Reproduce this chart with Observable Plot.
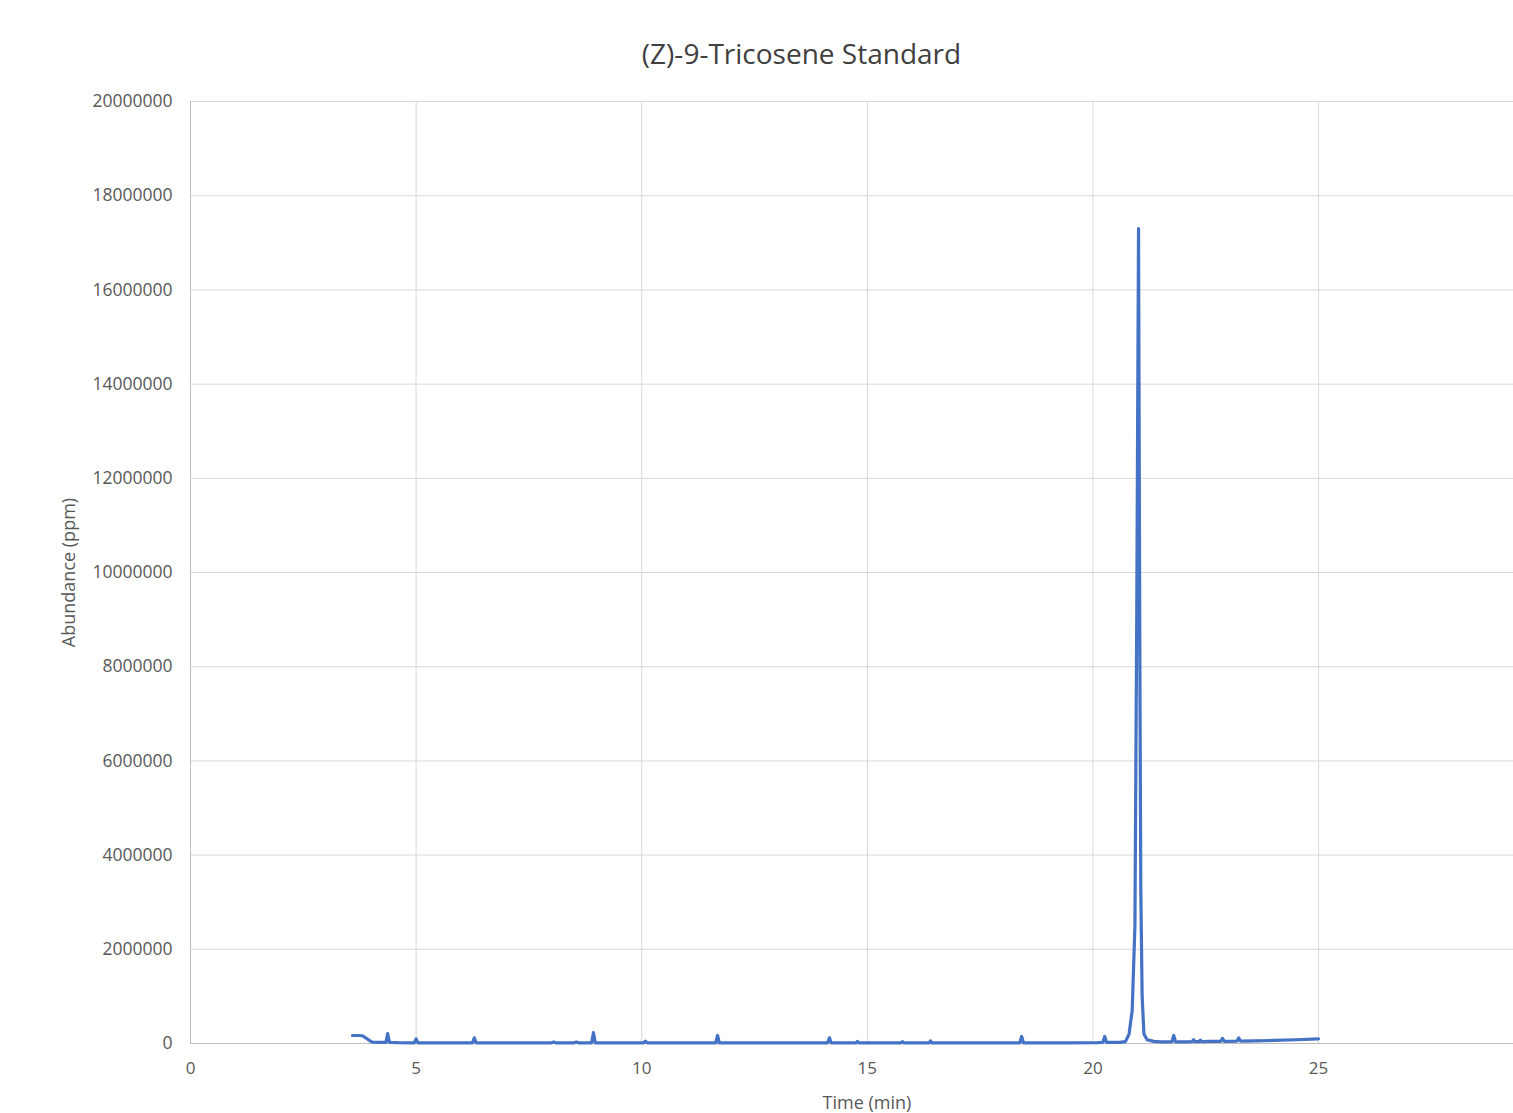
<!DOCTYPE html>
<html>
<head>
<meta charset="utf-8">
<script src="https://cdn.jsdelivr.net/npm/d3@7"></script>
<script src="https://cdn.jsdelivr.net/npm/@observablehq/plot@0.6"></script>
<style>
  body { margin: 0; background: #fff; font-family: "Open Sans", sans-serif; }
  #title { height: 71px; box-sizing: border-box; padding-top: 39px; text-align: center; font-size: 28px; color: #404040; line-height: 1; padding-left: 90px; }
  #chart svg { display: block; }
</style>
</head>
<body>
<div id="title">(Z)-9-Tricosene Standard</div>
<div id="chart"></div>
<script>
const chartTitle = "(Z)-9-Tricosene Standard";
const xLabel = "Time (min)";
const yLabel = "Abundance (ppm)";
const xTicks = [0, 5, 10, 15, 20, 25];
const yTicks = [0, 2000000, 4000000, 6000000, 8000000, 10000000, 12000000, 14000000, 16000000, 18000000, 20000000];

const timeMin = [3.59, 3.7, 3.81, 3.9, 3.97, 4.03, 4.2, 4.33, 4.37, 4.41, 4.6, 4.96, 5.0, 5.04, 5.5, 6.25, 6.29, 6.33, 7.2, 8.0, 8.05, 8.1, 8.3, 8.5, 8.55, 8.6, 8.89, 8.93, 8.97, 9.5, 10.04, 10.08, 10.12, 10.8, 11.64, 11.68, 11.72, 12.6, 13.6, 14.12, 14.16, 14.2, 14.5, 14.75, 14.78, 14.81, 15.3, 15.75, 15.78, 15.81, 16.37, 16.4, 16.43, 17.5, 18.38, 18.42, 18.46, 19.4, 20.1, 20.22, 20.26, 20.3, 20.6, 20.72, 20.8, 20.87, 20.93, 20.97, 21.01, 21.04, 21.06, 21.09, 21.13, 21.2, 21.35, 21.5, 21.75, 21.79, 21.83, 22.0, 22.2, 22.23, 22.26, 22.35, 22.38, 22.41, 22.6, 22.83, 22.87, 22.91, 23.19, 23.23, 23.27, 23.6, 24.0, 24.5, 25.0];
const abundance = [170000, 170000, 165000, 110000, 60000, 30000, 25000, 25000, 210000, 25000, 18000, 15000, 100000, 15000, 15000, 15000, 120000, 15000, 15000, 15000, 30000, 15000, 15000, 15000, 30000, 15000, 15000, 230000, 15000, 15000, 15000, 50000, 15000, 15000, 15000, 170000, 15000, 15000, 15000, 15000, 120000, 15000, 15000, 15000, 45000, 15000, 15000, 15000, 40000, 15000, 15000, 55000, 15000, 15000, 15000, 150000, 15000, 15000, 20000, 25000, 150000, 25000, 25000, 40000, 200000, 700000, 2500000, 9000000, 17300000, 8000000, 3300000, 1000000, 200000, 80000, 45000, 35000, 35000, 170000, 35000, 35000, 40000, 80000, 40000, 40000, 70000, 40000, 45000, 45000, 110000, 45000, 50000, 120000, 50000, 55000, 65000, 80000, 100000];

const data = timeMin.map((t, i) => ({t, a: abundance[i]}));

const W = 1513, H = 1042;
const chart = Plot.plot({
  width: W,
  height: H,
  marginTop: 30,
  marginLeft: 190,
  marginRight: 0,
  marginBottom: 70,
  style: { fontFamily: "Open Sans, sans-serif", fontSize: "17px", color: "#595959", background: "white", overflow: "hidden" },
  x: { domain: [0, 29.32], ticks: xTicks, tickSize: 0, tickPadding: 18, label: null, tickFormat: d => String(d) },
  y: { domain: [0, 20000000], ticks: yTicks, tickSize: 0, tickPadding: 18, label: null, tickFormat: d => String(d) },
  marks: [
    Plot.gridX(xTicks, { stroke: "#d9d9d9", strokeOpacity: 1, strokeWidth: 1 }),
    Plot.gridY(yTicks, { stroke: "#d9d9d9", strokeOpacity: 1, strokeWidth: 1 }),
    Plot.ruleY([0], { stroke: "#bfbfbf", strokeWidth: 1 }),
    Plot.ruleX([0], { stroke: "#bfbfbf", strokeWidth: 1 }),
    Plot.axisX({ ticks: xTicks, tickSize: 0, tickPadding: 18, fontSize: 17, fill: "#595959", tickFormat: d => String(d), label: null }),
    Plot.axisY({ ticks: yTicks, tickSize: 0, tickPadding: 18, fontSize: 17.5, fill: "#595959", tickFormat: d => String(d), label: yLabel, labelAnchor: "center", labelArrow: "none", labelOffset: 128 }),
    Plot.text([xLabel], { frameAnchor: "bottom", dx: 15, dy: 65, fontSize: 18, fill: "#595959" }),
    Plot.line(data, { x: "t", y: "a", stroke: "#4472c4", strokeWidth: 3.2, strokeLinejoin: "round", strokeLinecap: "round", curve: "linear" })
  ]
});
chart.querySelectorAll("g[aria-label='y-axis label'] text").forEach(t => t.setAttribute("font-size", "18"));
document.getElementById("chart").appendChild(chart);
</script>
</body>
</html>
